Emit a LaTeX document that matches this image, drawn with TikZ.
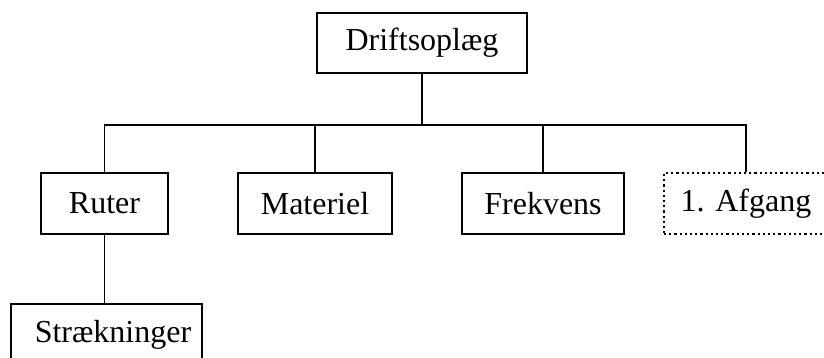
\documentclass[tikz,border=0pt]{standalone}
\usepackage{fontspec}
\setmainfont{Liberation Serif}
\usepackage{tikz}
\tikzset{boks/.style={draw, line width=1.3pt, inner sep=0pt,
  font=\fontsize{32}{38}\selectfont},
  prik/.style={boks, dash pattern=on 2.2pt off 3pt}}

\begin{document}
\begin{tikzpicture}[x=1pt,y=-1pt]
\useasboundingbox (0,0) rectangle (824,358);

\node [boks, minimum width=210, minimum height=60] (drift) at (422,43) {Driftsopl\ae g};

\node [boks, minimum width=127, minimum height=61] (ruter) at (104.5,203.5) {Ruter};
\node [boks, minimum width=154, minimum height=61] (materiel) at (315,203.5) {Materiel};
\node [boks, minimum width=162, minimum height=61] (frekvens) at (543,203.5) {Frekvens};
\node [prik, minimum width=164, minimum height=61] (afgang) at (746,203.5) {1. Afgang};

\node [boks, minimum width=191, minimum height=61] (straek) at (106.5,334.5) {\hspace{13pt}Str\ae kninger};

\coordinate (bus) at (0,125);

\draw [line width=1.3pt] (drift.south) -- (drift.south |- bus);
\draw [line width=1.3pt] (ruter.north) -- (ruter.north |- bus) -- (afgang.north |- bus) -- (afgang.north);
\draw [line width=1.3pt] (materiel.north |- bus) -- (materiel.north);
\draw [line width=1.3pt] (frekvens.north |- bus) -- (frekvens.north);

\draw [line width=1.3pt] (ruter.south) -- (ruter.south |- straek.north);

\end{tikzpicture}
\end{document}
